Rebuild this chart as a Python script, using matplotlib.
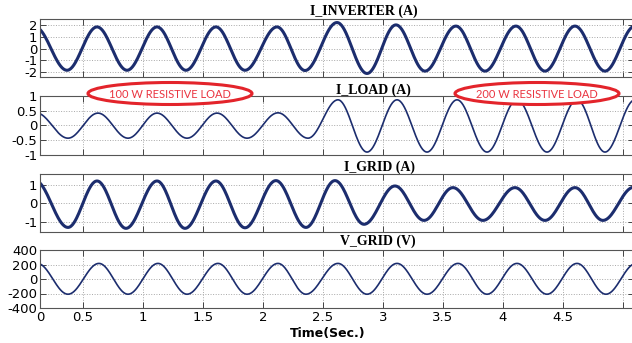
import numpy as np
import matplotlib
matplotlib.use('Agg')
import matplotlib.pyplot as plt
from matplotlib.patches import Ellipse

plt.rcParams['font.family'] = 'DejaVu Sans'
plt.rcParams['axes.unicode_minus'] = False

# extrema (time in s, value), incl. one just outside each edge
t_inv = [0.10, 0.367, 0.617, 0.867, 1.117, 1.358, 1.608, 1.85, 2.117, 2.35,
         2.617, 2.867, 3.108, 3.35, 3.608, 3.85, 4.108, 4.35, 4.60, 4.85, 5.10]
i_inv = [1.83, -1.83, 1.83, -1.83, 1.83, -1.83, 1.83, -1.83, 1.83, -1.85,
         2.2, -2.1, 2.0, -1.9, 1.9, -1.9, 1.9, -1.9, 1.9, -1.9, 1.9]

t_load = [0.11, 0.375, 0.625, 0.875, 1.117, 1.367, 1.617, 1.867, 2.125, 2.375,
          2.625, 2.867, 3.117, 3.367, 3.617, 3.867, 4.117, 4.367, 4.617, 4.85, 5.10]
i_load = [0.43, -0.43, 0.42, -0.43, 0.42, -0.43, 0.42, -0.43, 0.43, -0.43,
          0.87, -0.9, 0.87, -0.9, 0.87, -0.9, 0.87, -0.9, 0.87, -0.9, 0.87]

t_grid = [0.10, 0.375, 0.617, 0.858, 1.117, 1.35, 1.608, 1.85, 2.108, 2.358,
          2.60, 2.842, 3.10, 3.342, 3.583, 3.833, 4.10, 4.35, 4.60, 4.833, 5.09]
i_grid = [1.25, -1.3, 1.22, -1.35, 1.22, -1.35, 1.22, -1.32, 1.24, -1.3,
          1.24, -1.13, 0.95, -0.92, 0.86, -0.92, 0.86, -0.92, 0.86, -0.92, 0.88]

t_vg = [0.12, 0.375, 0.633, 0.875, 1.125, 1.367, 1.625, 1.867, 2.125, 2.358,
        2.625, 2.867, 3.117, 3.367, 3.625, 3.867, 4.117, 4.367, 4.617, 4.858, 5.11]
v_grid = [215, -210, 215, -210, 215, -210, 215, -210, 215, -210,
          215, -210, 215, -210, 215, -210, 215, -210, 215, -210, 215]

titles = ['I_INVERTER (A)', 'I_LOAD (A)', 'I_GRID (A)', 'V_GRID (V)']
x_ticks = [0.1417, 0.5, 1, 1.5, 2, 2.5, 3, 3.5, 4, 4.5, 5]
x_labels = ['0', '0.5', '1', '1.5', '2', '2.5', '3', '3.5', '4', '4.5', '']
notes = ['100 W RESISTIVE LOAD', '200 W RESISTIVE LOAD']

W, H = 632, 343
NAVY = '#1c2d6e'


def wave(t_ext, v_ext, n=40):
    # half-cosine between successive extrema
    ts, vs = [], []
    for i in range(len(t_ext) - 1):
        s = np.linspace(0, 1, n, endpoint=False)
        ts.append(t_ext[i] + s * (t_ext[i + 1] - t_ext[i]))
        vs.append(v_ext[i] + (v_ext[i + 1] - v_ext[i]) * (1 - np.cos(np.pi * s)) / 2)
    ts.append([t_ext[-1]])
    vs.append([v_ext[-1]])
    return np.concatenate(ts), np.concatenate(vs)


fig = plt.figure(figsize=(W / 100, H / 100), dpi=100)


def ax_at(top, bottom, left=40, right=634):
    return fig.add_axes([left / W, 1 - bottom / H, (right - left) / W, (bottom - top) / H])


panels = [
    (19, 77, t_inv, i_inv, 2.2, (-2.4, 2.5), [-2, -1, 0, 1, 2]),
    (96, 155, t_load, i_load, 1.2, (-1, 1), [-1, -0.5, 0, 0.5, 1]),
    (174, 232, t_grid, i_grid, 2.2, (-1.55, 1.6), [-1, 0, 1]),
    (250, 308, t_vg, v_grid, 1.2, (-400, 400), [-400, -200, 0, 200, 400]),
]

axes = []
for k, (top, bot, tt, vv, lw, yl, yt) in enumerate(panels):
    ax = ax_at(top, bot)
    x, y = wave(tt, vv)
    ax.plot(x, y, color=NAVY, lw=lw, solid_joinstyle='round')
    ax.set_xlim(0.1417, 5.092)
    ax.set_ylim(*yl)
    ax.set_yticks(yt)
    ax.set_yticklabels([('%g' % v) for v in yt])
    ax.set_xticks(x_ticks)
    if k == 3:
        ax.set_xticklabels(x_labels)
    else:
        ax.set_xticklabels([])
    ax.grid(True, linestyle=':', color='#a8a8a8', lw=0.7)
    ax.tick_params(direction='in', top=True, right=True, length=4, width=0.7,
                   labelsize=9.5, pad=2, color='#444444')
    for sp in ax.spines.values():
        sp.set_color('#555555')
        sp.set_linewidth(0.8)
    axes.append(ax)

title_pos = [(364, 11), (373, 90), (379, 167), (378, 241)]
for (px, py), txt in zip(title_pos, titles):
    fig.text(px / W, 1 - py / H, txt, ha='center', va='center',
             family='Liberation Serif', weight='bold', size=10)

fig.text(328 / W, 1 - 333 / H, 'Time(Sec.)', ha='center', va='center',
         weight='bold', size=9)

# red ellipse annotations
ov = fig.add_axes([0, 0, 1, 1])
ov.set_xlim(0, W)
ov.set_ylim(H, 0)
ov.axis('off')
ov.patch.set_alpha(0)
for cx, txt in zip([170, 537], notes):
    ov.add_patch(Ellipse((cx, 93.5), 164, 22, facecolor='white',
                         edgecolor='#e3242b', lw=2.2))
    ov.text(cx, 94, txt, ha='center', va='center', color='#ea3440',
            family='Lato', size=8)

fig.savefig('out.png', dpi=100)
